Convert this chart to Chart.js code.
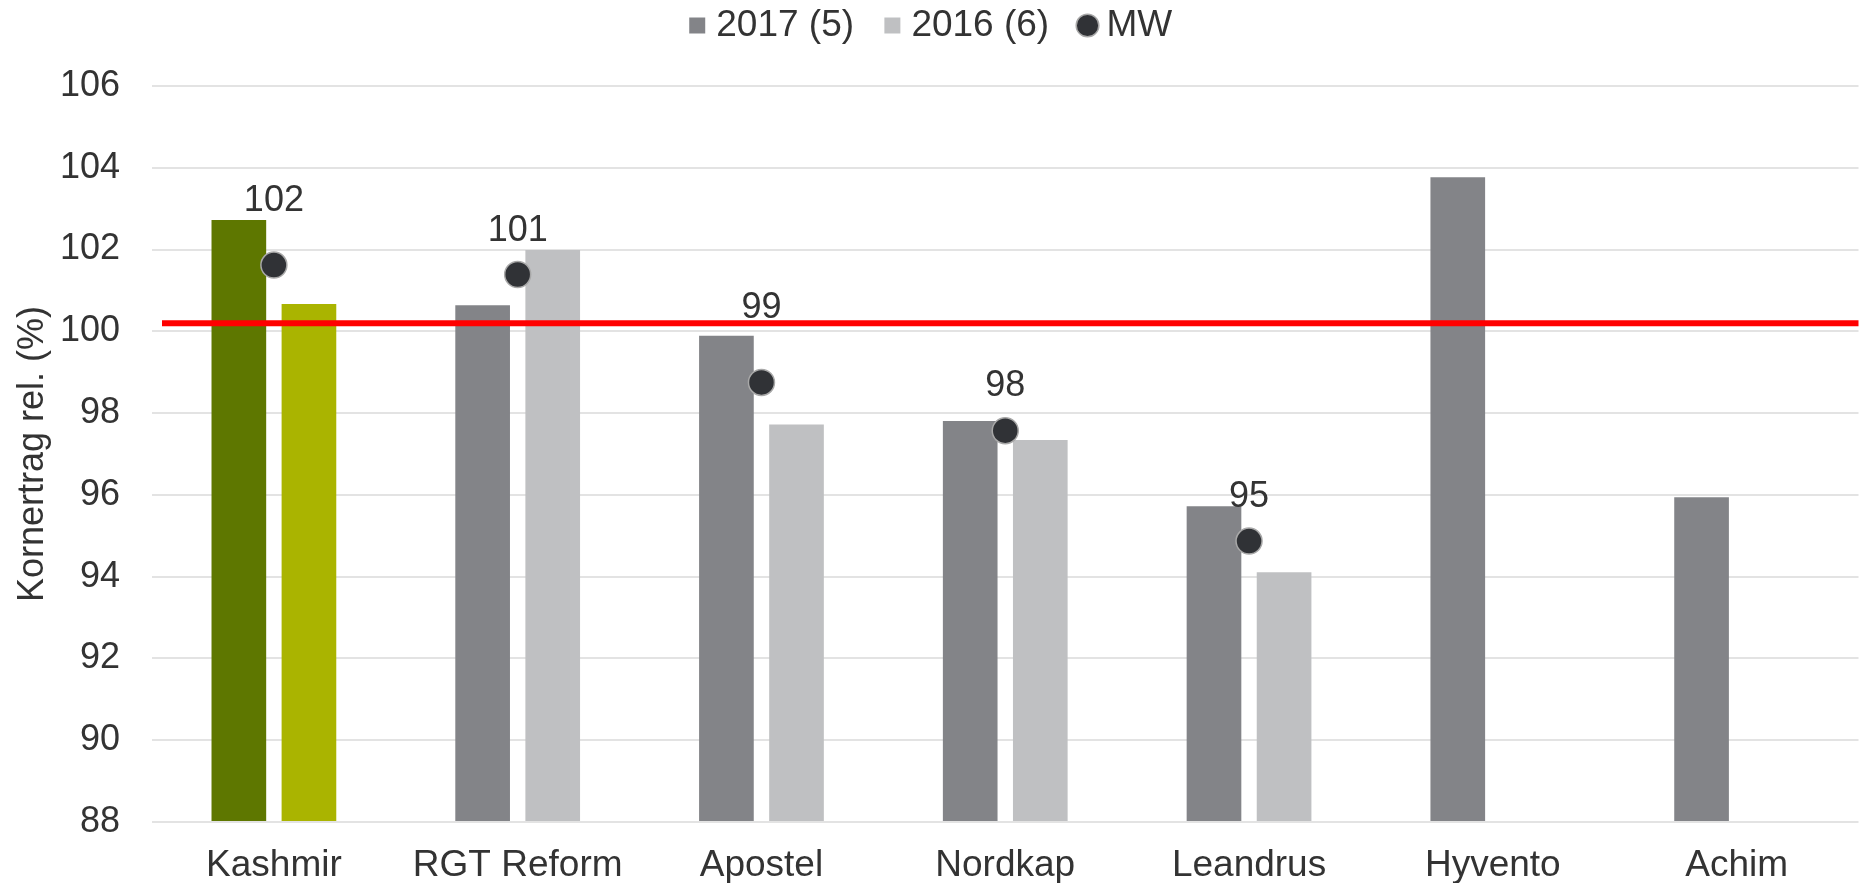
<!DOCTYPE html>
<html>
<head>
<meta charset="utf-8">
<title>Kornertrag rel.</title>
<script src="https://cdn.jsdelivr.net/npm/chart.js@4/dist/chart.umd.min.js"></script>
<style>
  html, body { margin: 0; padding: 0; background: #fff; }
  #chartWrap { width: 1873px; height: 883px; }
</style>
</head>
<body>
<div id="chartWrap"><canvas id="yieldChart"></canvas></div>
<script>
// Chart data
const varieties = ["Kashmir", "RGT Reform", "Apostel", "Nordkap", "Leandrus", "Hyvento", "Achim"];
const yield2017 = [102.72, 100.64, 99.89, 97.81, 95.72, 103.77, 95.94];
const yield2016 = [100.67, 101.99, 97.72, 97.34, 94.11, null, null];
const yieldMean = [101.62, 101.39, 98.75, 97.57, 94.87, null, null];
const meanLabels = ["102", "101", "99", "98", "95", null, null];
const seriesNames = ["2017 (5)", "2016 (6)", "MW"];
const yMin = 88;
const yMax = 106;
const yStep = 2;
const referenceLevel = 100.2;

// Styling
const COLORS = {
  y2017: "#838488",
  y2016: "#bfc0c2",
  kashmir2017: "#5e7700",
  kashmir2016: "#aab400",
  mean: "#303236",
  meanBorder: "#a8a8a8",
  text: "#333333",
  grid: "#e3e3e3",
  reference: "#ff0000",
};
const FONT_FAMILY = '"Liberation Sans", Arial, Helvetica, sans-serif';
const highlightIndex = 0; // Kashmir bars are drawn in green
const meanLabelLift = [64, 43, 74, 45, 44]; // px above the MW point

function barColors(base, highlight) {
  return varieties.map((_, i) => (i === highlightIndex ? highlight : base));
}

Chart.defaults.font.family = FONT_FAMILY;
Chart.defaults.color = COLORS.text;

// Pushes the plot area down below the legend
const legendSpacer = {
  id: "legendSpacer",
  beforeInit(chart) {
    if (!chart.legend) return;
    const origFit = chart.legend.fit;
    chart.legend.fit = function () {
      origFit.bind(chart.legend)();
      this.height = 86;
    };
  },
};

// Red reference line across the plot area
const referenceLine = {
  id: "referenceLine",
  afterDatasetsDraw(chart) {
    const { ctx, chartArea, scales } = chart;
    const y = scales.y.getPixelForValue(referenceLevel);
    ctx.save();
    ctx.strokeStyle = COLORS.reference;
    ctx.lineWidth = 6;
    ctx.beginPath();
    ctx.moveTo(chartArea.left + 10, y);
    ctx.lineTo(chartArea.right, y);
    ctx.stroke();
    ctx.restore();
  },
};

// Value labels above the MW points
const meanValueLabels = {
  id: "meanValueLabels",
  afterDatasetsDraw(chart) {
    const { ctx } = chart;
    const meta = chart.getDatasetMeta(2);
    ctx.save();
    ctx.font = "36px " + FONT_FAMILY;
    ctx.fillStyle = COLORS.text;
    ctx.textAlign = "center";
    ctx.textBaseline = "middle";
    meta.data.forEach((pt, i) => {
      if (meanLabels[i] == null) return;
      ctx.fillText(meanLabels[i], pt.x, pt.y - meanLabelLift[i]);
    });
    ctx.restore();
  },
};

const legendFill = [COLORS.y2017, COLORS.y2016, COLORS.mean];
const legendGap = ["   ", "   ", ""];

new Chart(document.getElementById("yieldChart"), {
  type: "bar",
  data: {
    labels: varieties,
    datasets: [
      {
        label: seriesNames[0],
        data: yield2017,
        backgroundColor: barColors(COLORS.y2017, COLORS.kashmir2017),
        borderWidth: 0,
        base: yMin,
        pointStyle: "rect",
        categoryPercentage: 0.575,
        barPercentage: 0.78,
      },
      {
        label: seriesNames[1],
        data: yield2016,
        backgroundColor: barColors(COLORS.y2016, COLORS.kashmir2016),
        borderWidth: 0,
        base: yMin,
        pointStyle: "rect",
        categoryPercentage: 0.575,
        barPercentage: 0.78,
      },
      {
        type: "line",
        label: seriesNames[2],
        data: yieldMean,
        showLine: false,
        order: -1,
        pointStyle: "circle",
        pointRadius: 13,
        pointHoverRadius: 13,
        pointBackgroundColor: COLORS.mean,
        pointBorderColor: COLORS.meanBorder,
        pointBorderWidth: 1.5,
        backgroundColor: COLORS.mean,
        borderColor: COLORS.meanBorder,
      },
    ],
  },
  options: {
    responsive: true,
    maintainAspectRatio: false,
    animation: false,
    layout: { padding: { top: 0, right: 4, bottom: 0, left: 0 } },
    plugins: {
      tooltip: { enabled: false },
      legend: {
        position: "top",
        align: "center",
        labels: {
          usePointStyle: true,
          boxWidth: 1,
          boxHeight: 16,
          padding: 7,
          color: COLORS.text,
          font: { size: 37 },
          generateLabels(chart) {
            const items = Chart.defaults.plugins.legend.labels.generateLabels(chart);
            items.sort((a, b) => a.datasetIndex - b.datasetIndex);
            items.forEach((item) => {
              const i = item.datasetIndex;
              item.text = seriesNames[i] + legendGap[i];
              item.fillStyle = legendFill[i];
              item.pointStyle = i === 2 ? "circle" : "rect";
              item.strokeStyle = i === 2 ? COLORS.meanBorder : legendFill[i];
              item.lineWidth = i === 2 ? 1.5 : 0;
            });
            return items;
          },
        },
      },
    },
    scales: {
      x: {
        grid: { display: false },
        border: { display: false },
        ticks: {
          padding: 14,
          maxRotation: 0,
          autoSkip: false,
          color: COLORS.text,
          font: { size: 37 },
        },
        afterFit(scale) {
          scale.height = 61;
        },
      },
      y: {
        min: yMin,
        max: yMax,
        grid: { color: COLORS.grid, lineWidth: 2, drawTicks: false },
        border: { display: false },
        ticks: {
          stepSize: yStep,
          padding: 32,
          color: COLORS.text,
          font: { size: 36 },
        },
        title: {
          display: true,
          text: "Kornertrag rel. (%)",
          color: COLORS.text,
          font: { size: 36 },
          padding: { top: 11, bottom: 0 },
        },
        afterFit(scale) {
          scale.width = 152;
        },
      },
    },
  },
  plugins: [legendSpacer, referenceLine, meanValueLabels],
});
</script>
</body>
</html>
